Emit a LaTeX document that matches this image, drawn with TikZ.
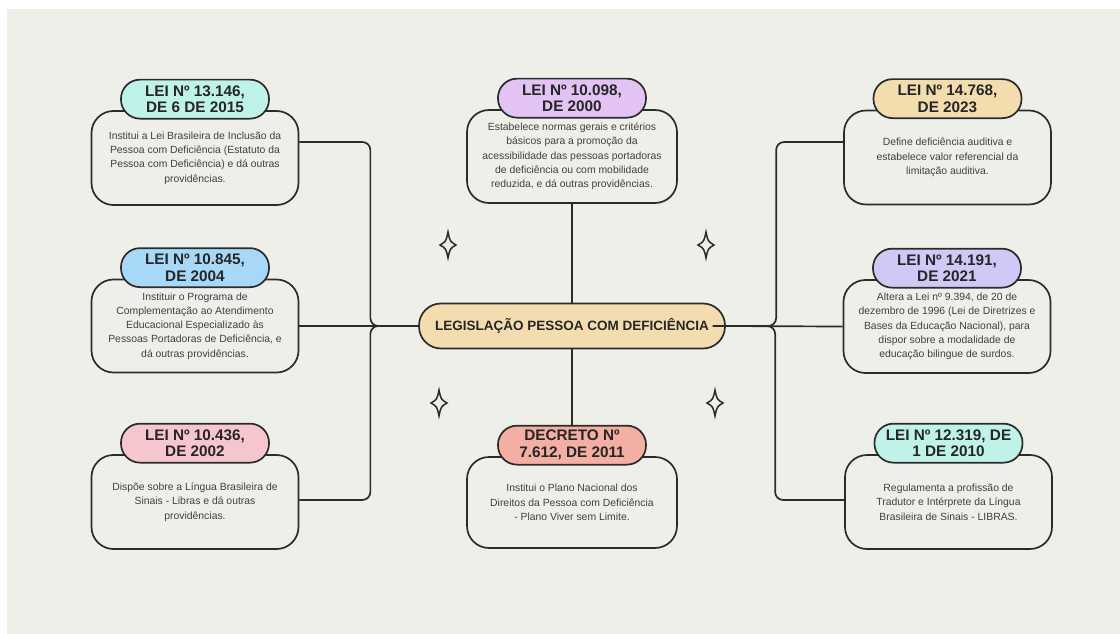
\documentclass[tikz,border=0pt]{standalone}
\usepackage{fontspec}
\setmainfont{Liberation Sans}
\usetikzlibrary{positioning}

\definecolor{panelbg}{HTML}{EFEFEA}
\definecolor{lineclr}{HTML}{2B2B2B}
\definecolor{bodytxt}{HTML}{3F3F3F}
\definecolor{mint}{HTML}{BFF3E9}
\definecolor{skyblue}{HTML}{A8D8F8}
\definecolor{rosepink}{HTML}{F6C6CE}
\definecolor{lilac}{HTML}{E3C3F4}
\definecolor{salmon}{HTML}{F4AFA4}
\definecolor{sand}{HTML}{F3DDAF}
\definecolor{lavender}{HTML}{D2C8F6}

\newcommand{\sparkleat}[1]{%
  \draw[sparkle,shift={#1}] (0,-13) .. controls (2,-3.5) .. (8,0)
    .. controls (2,3.5) .. (0,13) .. controls (-2,3.5) .. (-8,0)
    .. controls (-2,-3.5) .. (0,-13) -- cycle;}

\begin{document}
\begin{tikzpicture}[x=1pt,y=-1pt,
    bodybox/.style={draw=lineclr,line width=1.7pt,fill=panelbg,rounded corners=22pt,
      minimum width=207pt,minimum height=94pt,inner sep=0pt,align=center,
      text=bodytxt,font=\fontsize{10.4}{14.3}\selectfont},
    titlepill/.style={draw=lineclr,line width=1.7pt,rounded corners=19pt,
      minimum width=148pt,minimum height=39pt,inner sep=0pt,align=center,
      text=black!85,font=\fontsize{15.3}{16.8}\selectfont\bfseries},
    hubpill/.style={draw=lineclr,line width=1.7pt,fill=sand,rounded corners=22pt,
      minimum width=306pt,minimum height=45pt,inner sep=0pt,
      text=black!85,font=\fontsize{13.5}{15}\selectfont\bfseries},
    link/.style={draw=lineclr,line width=1.7pt,rounded corners=8pt},
    sparkle/.style={draw=lineclr,line width=1.5pt}]

  \useasboundingbox (0,0) rectangle (1120,634);
  \fill[white] (0,0) rectangle (1120,634);
  \fill[panelbg] (7,9) rectangle (1120,634);

  % law boxes
  \begin{scope}[every node/.style={bodybox}]
    \node (b1) at (195,158)   {Institui a Lei Brasileira de Inclusão da\\Pessoa com Deficiência (Estatuto da\\Pessoa com Deficiência) e dá outras\\providências.};
    \node (b2) at (195,326)   [minimum height=93pt] {Instituir o Programa de\\Complementação ao Atendimento\\Educacional Especializado às\\Pessoas Portadoras de Deficiência, e\\dá outras providências.};
    \node (b3) at (195,502)   {Dispõe sobre a Língua Brasileira de\\Sinais - Libras e dá outras\\providências.};
    \node (c1) at (572,156.5) [minimum width=210pt,minimum height=93pt] {Estabelece normas gerais e critérios\\básicos para a promoção da\\acessibilidade das pessoas portadoras\\de deficiência ou com mobilidade\\reduzida, e dá outras providências.};
    \node (c2) at (572,502.5) [minimum width=210pt,minimum height=91pt] {Institui o Plano Nacional dos\\Direitos da Pessoa com Deficiência\\- Plano Viver sem Limite.};
    \node (r1) at (947.5,157.5) {Define deficiência auditiva e\\estabelece valor referencial da\\limitação auditiva.};
    \node (r2) at (947,326.5) [minimum height=93pt] {Altera a Lei nº 9.394, de 20 de\\dezembro de 1996 (Lei de Diretrizes e\\Bases da Educação Nacional), para\\dispor sobre a modalidade de\\educação bilingue de surdos.};
    \node (r3) at (948.5,502) {Regulamenta a profissão de\\Tradutor e Intérprete da Língua\\Brasileira de Sinais - LIBRAS.};
  \end{scope}

  % title pills
  \begin{scope}[every node/.style={titlepill}]
    \node[fill=mint]     (t1) at ([yshift=11pt]b1.north) {LEI Nº 13.146,\\DE 6 DE 2015};
    \node[fill=skyblue]  (t2) at ([yshift=11pt]b2.north) {LEI Nº 10.845,\\DE 2004};
    \node[fill=rosepink] (t3) at ([yshift=11pt]b3.north) {LEI Nº 10.436,\\DE 2002};
    \node[fill=lilac]    (t4) at ([yshift=11pt]c1.north) {LEI Nº 10.098,\\DE 2000};
    \node[fill=salmon]   (t5) at ([yshift=11pt]c2.north) {DECRETO Nº\\7.612, DE 2011};
    \node[fill=sand]     (t6) at ([yshift=11pt]r1.north) {LEI Nº 14.768,\\DE 2023};
    \node[fill=lavender] (t7) at ([yshift=11pt]r2.north) {LEI Nº 14.191,\\DE 2021};
    \node[fill=mint]     (t8) at ([yshift=11pt]r3.north) {LEI Nº 12.319, DE\\1 DE 2010};
  \end{scope}

  \node[hubpill] (hub) at (572,326) {LEGISLAÇÃO PESSOA COM DEFICIÊNCIA};

  % connectors
  \draw[link] ([yshift=16pt]b1.east) -- ++(71,0) |- (hub.west);
  \draw[link] (b2.east) -- (hub.west);
  \draw[link] ([yshift=2pt]b3.east) -- ++(71,0) |- (hub.west);
  \draw[link] (c1.south) -- (hub.north);
  \draw[link] (hub.south) -- (t5.north);
  \draw[link] ([xshift=-13pt]hub.east) -- (r2.west);
  \draw[link] ([yshift=15.5pt]r1.west) -- ++(-67,0) |- ([xshift=-13pt]hub.east);
  \draw[link] ([yshift=2pt]r3.west) -- ++(-69,0) |- ([xshift=-13pt]hub.east);

  % sparkles
  \sparkleat{(448,245)}
  \sparkleat{(706,245)}
  \sparkleat{(439,403)}
  \sparkleat{(715,403)}

\end{tikzpicture}
\end{document}
